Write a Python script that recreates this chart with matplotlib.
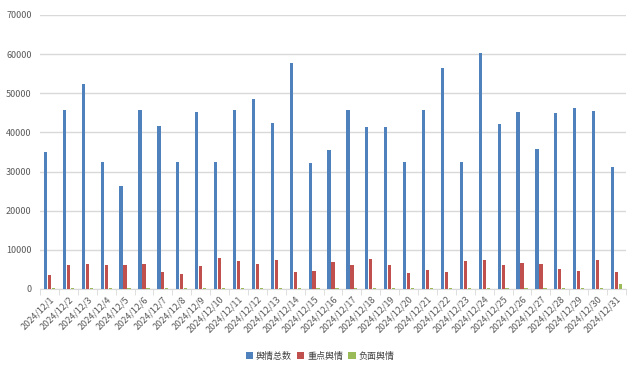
import matplotlib
matplotlib.use("Agg")
from matplotlib import pyplot as plt
import numpy as np

plt.rcParams['font.family'] = ['Noto Sans CJK SC', 'DejaVu Sans']

# 数据
dates = ["2024/12/%d" % d for d in range(1, 32)]
total = [35000, 45750, 52400, 32500, 26400, 45750, 41700, 32500, 45200, 32500,
         45750, 48560, 42400, 57750, 32200, 35500, 45750, 41400, 41400, 32500,
         45750, 56500, 32500, 60300, 42200, 45200, 35800, 45000, 46300, 45500,
         31200]
key = [3650, 6200, 6460, 6200, 6200, 6460, 4420, 3900, 5950, 8000,
       7220, 6460, 7480, 4420, 4680, 6970, 6200, 7740, 6200, 4160,
       4930, 4420, 7220, 7480, 6200, 6710, 6460, 5180, 4680, 7480,
       4420]
negative = [300] * 30 + [1350]
series_names = ["舆情总数", "重点舆情", "负面舆情"]
colors = ["#4f81bd", "#c0504d", "#9bbb59"]

fig = plt.figure(figsize=(6.41, 3.72), dpi=100)
ax = fig.add_axes([40 / 641, 1 - 289 / 372, 586 / 641, 274 / 372])

x = np.arange(len(dates))
w = 0.17
for i, (vals, name, c) in enumerate(zip([total, key, negative], series_names, colors)):
    ax.bar(x + (i - 1) * 0.21, vals, w, color=c, label=name, zorder=3)

ax.set_xlim(-0.5, len(dates) - 0.5)
ax.set_ylim(0, 70000)
ax.set_yticks(range(0, 70001, 10000))
ax.grid(axis='y', color='#d9d9d9', linewidth=1, zorder=0)

for s in ['left', 'right', 'top']:
    ax.spines[s].set_visible(False)
ax.spines['bottom'].set_color('#d9d9d9')

ax.set_xticks(x)
ax.set_xticklabels(dates, rotation=45, ha='right', rotation_mode='anchor',
                   fontsize=6.5, color='#595959')
ax.set_xticks(np.arange(-0.5, len(dates), 1), minor=True)
ax.tick_params(axis='x', which='major', length=0, pad=4)
ax.tick_params(axis='x', which='minor', length=4, color='#d9d9d9')
ax.tick_params(axis='y', length=0, labelsize=6.5, labelcolor='#595959', pad=6)

ax.legend(loc='upper center', bbox_to_anchor=(0.478, -0.2), ncol=3, frameon=False,
          fontsize=6.5, handlelength=0.8, handleheight=0.8, handletextpad=0.3,
          columnspacing=0.6, labelcolor='#404040')

plt.savefig("out.png", dpi=100)
